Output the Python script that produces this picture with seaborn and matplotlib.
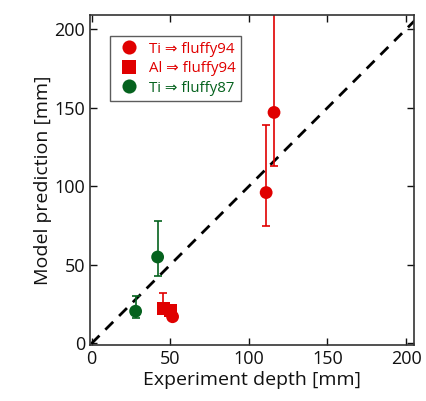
import numpy as np
import pandas as pd
import matplotlib
matplotlib.use("Agg")
import matplotlib.pyplot as plt
import seaborn as sns

# data
ti94_x = [111, 116, 51.5]
ti94_y = [96, 147, 17]
ti94_lo = [74.5, 113, 17]
ti94_hi = [139, 240, 17]

al94_x = [45.5, 50]
al94_y = [22, 21]
al94_lo = [22, 21]
al94_hi = [32, 21]

ti87_x = [28, 42]
ti87_y = [20.5, 55]
ti87_lo = [16, 43]
ti87_hi = [30, 78]

labels = ["Ti \u21d2 fluffy94", "Al \u21d2 fluffy94", "Ti \u21d2 fluffy87"]
red = "#e00000"
green = "#05621e"

df = pd.DataFrame({
    "x": ti94_x + al94_x + ti87_x,
    "y": ti94_y + al94_y + ti87_y,
    "lo": ti94_lo + al94_lo + ti87_lo,
    "hi": ti94_hi + al94_hi + ti87_hi,
    "group": [labels[0]] * 3 + [labels[1]] * 2 + [labels[2]] * 2,
})

sns.set_style("ticks")
plt.rcParams["font.family"] = ["Open Sans", "DejaVu Sans"]

fig = plt.figure(figsize=(4.26, 4.01), dpi=100)
ax = fig.add_axes([90 / 426, 56 / 401, 324 / 426, 330 / 401])

palette = {labels[0]: red, labels[1]: red, labels[2]: green}
markers = {labels[0]: "o", labels[1]: "s", labels[2]: "o"}

for g, sub in df.groupby("group", sort=False):
    ax.errorbar(sub["x"], sub["y"],
                yerr=[sub["y"] - sub["lo"], sub["hi"] - sub["y"]],
                fmt="none", ecolor=palette[g], elinewidth=1.2,
                capsize=3, capthick=1.2, zorder=2)

ax.plot([0, 210], [0, 210], ls=(0, (4, 3)), color="black", lw=2, zorder=1)

sns.scatterplot(data=df, x="x", y="y", hue="group", style="group",
                palette=palette, markers=markers, s=85, linewidth=0,
                ax=ax, zorder=3, legend=True)

ax.set_xlim(-1, 205)
ax.set_ylim(-1, 209)
ax.set_xticks([0, 50, 100, 150, 200])
ax.set_yticks([0, 50, 100, 150, 200])
ax.tick_params(direction="in", top=True, right=True, labelsize=13,
               length=5, width=1, colors="#111111")
for s in ax.spines.values():
    s.set_linewidth(1.2)
    s.set_color("#333333")
ax.set_xlabel("Experiment depth [mm]", fontsize=14, labelpad=2, color="#111111")
ax.set_ylabel("Model prediction [mm]", fontsize=14, labelpad=2, color="#111111")

leg = ax.legend(loc="upper left", bbox_to_anchor=(0.04, 0.958),
                fontsize=10.8, frameon=True, fancybox=False,
                edgecolor="#333333", borderpad=0.35, handletextpad=0.4,
                labelspacing=0.3, markerscale=1.1, handlelength=1.8)
leg.get_frame().set_linewidth(1.0)
for t, c in zip(leg.get_texts(), [red, red, green]):
    t.set_color(c)

fig.savefig("out.png", dpi=100)
